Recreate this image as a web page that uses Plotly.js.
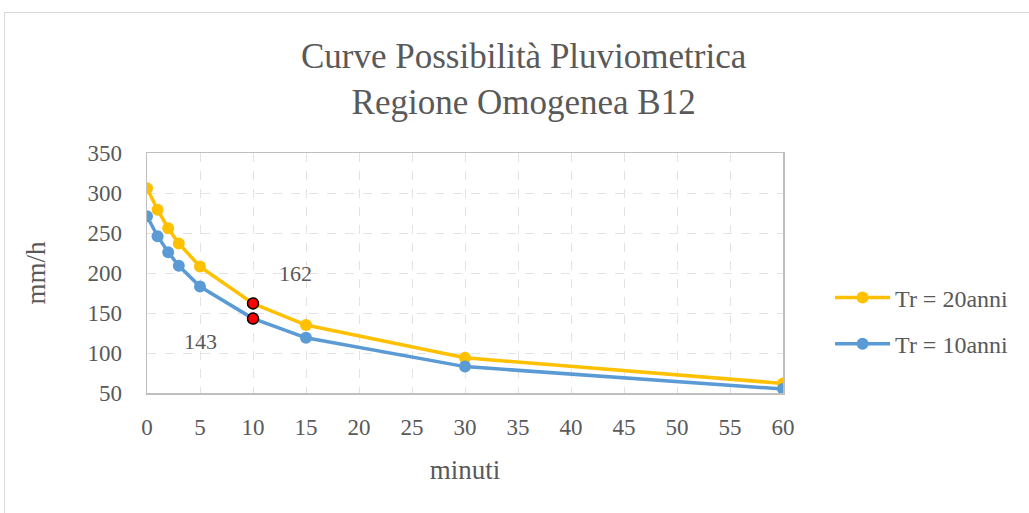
<!DOCTYPE html>
<html>
<head>
<meta charset="utf-8">
<script src="https://cdn.plot.ly/plotly-3.0.1.min.js"></script>
<style>
html,body{margin:0;padding:0;background:#fff;}
#wrap{position:relative;width:1029px;height:513px;}
#chart{position:absolute;left:0;top:0;width:1029px;height:513px;}
#frame{position:absolute;left:4px;top:12px;width:1030px;height:510px;border:1px solid #d9d9d9;pointer-events:none;box-sizing:border-box;}
</style>
</head>
<body>
<div id="wrap"><div id="chart"></div><div id="frame"></div></div>
<script>
const minuti = [0, 1, 2, 3, 5, 10, 15, 30, 60];
const tr20 = [306, 279, 256, 237, 208, 162, 135, 94, 62];
const tr10 = [271, 246, 226, 209, 183, 143, 119, 83, 55];
const highlightX = [10, 10];
const highlightY = [162, 143];
const labelText = ["162", "143"];
const titleText = "Curve Possibilità Pluviometrica<br>Regione Omogenea B12";

const serif = "'Liberation Serif', 'DejaVu Serif', serif";
const grey = "#595959";

const traces = [
  {x: minuti, y: tr20, name: "Tr = 20anni", mode: "lines+markers", legendgroup: "a",
   line: {color: "#FFC000", width: 3.5}, marker: {color: "#FFC000", size: 12}},
  {x: minuti, y: tr10, name: "Tr = 10anni", mode: "lines+markers", legendgroup: "b",
   line: {color: "#5B9BD5", width: 3.5}, marker: {color: "#5B9BD5", size: 12}},
  {x: highlightX, y: highlightY, mode: "markers", showlegend: false,
   marker: {color: "#FF0000", size: 11, line: {color: "#000", width: 1.5}}, hoverinfo: "skip"}
];

const layout = {
  width: 1029, height: 513,
  margin: {l: 147, r: 246, t: 153, b: 120},
  paper_bgcolor: "rgba(0,0,0,0)", plot_bgcolor: "#fff",
  font: {family: serif, color: grey, size: 23},
  xaxis: {range: [0, 60], dtick: 5, tick0: 0, showline: true, mirror: true,
          linecolor: "#bfbfbf", linewidth: 1.5, showgrid: true, gridcolor: "#e3e3e3",
          griddash: "dash", gridwidth: 1, zeroline: false,
          ticks: "outside", ticklen: 13, tickcolor: "rgba(0,0,0,0)",
          tickfont: {size: 23, color: grey, family: serif},
          title: {text: "minuti", font: {size: 27, color: grey, family: serif}, standoff: 21}},
  yaxis: {range: [50, 350], dtick: 50, tick0: 50, showline: true, mirror: true,
          linecolor: "#bfbfbf", linewidth: 1.5, showgrid: true, gridcolor: "#e3e3e3",
          griddash: "dash", gridwidth: 1, zeroline: false,
          ticks: "outside", ticklen: 19, tickcolor: "rgba(0,0,0,0)",
          tickfont: {size: 23, color: grey, family: serif},
          title: {text: "mm/h", font: {size: 27, color: grey, family: serif}, standoff: 34}},
  legend: {x: 1.074, xanchor: "left", y: 0.30, yanchor: "middle", itemwidth: 55,
           font: {size: 24, color: grey, family: serif}, tracegroupgap: 12},
  annotations: [
    {x: 0.593, y: 1.308, xref: "paper", yref: "paper", text: titleText, showarrow: false,
     yanchor: "middle", xanchor: "center", font: {size: 35, color: grey, family: serif}},
    {x: 14, y: 200, text: labelText[0], showarrow: false, xref: "x", yref: "y",
     font: {size: 22, color: grey, family: serif}},
    {x: 5, y: 114, text: labelText[1], showarrow: false, xref: "x", yref: "y",
     font: {size: 22, color: grey, family: serif}}
  ]
};

Plotly.newPlot("chart", traces, layout, {displayModeBar: false, staticPlot: true});
</script>
</body>
</html>
